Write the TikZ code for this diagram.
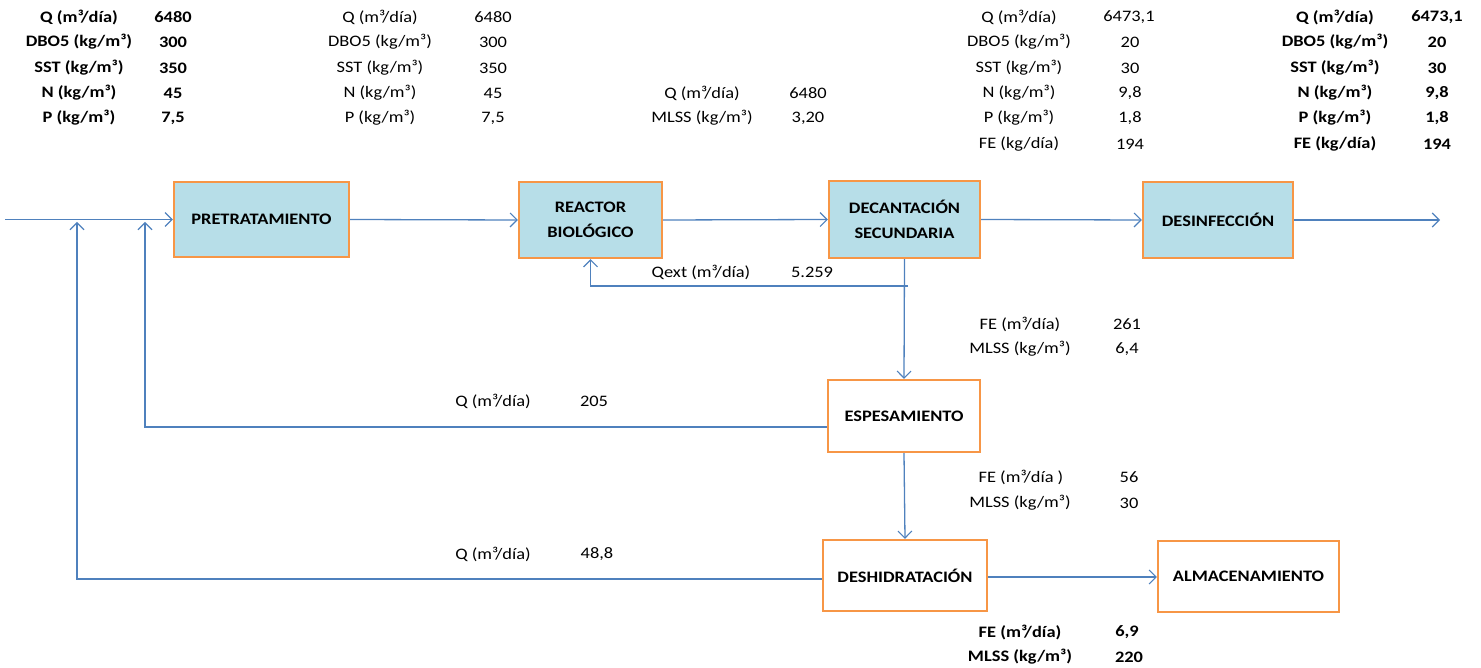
\documentclass[tikz,border=0pt]{standalone}
\usepackage{fontspec}
\setmainfont{Carlito}[FakeStretch=1.15]
\usetikzlibrary{arrows.meta}
\definecolor{boxfill}{HTML}{B7DEE8}
\definecolor{boxline}{HTML}{F79646}
\definecolor{flow}{HTML}{4F81BD}
\tikzset{
  lab/.style={inner sep=0pt, anchor=center, font=\fontsize{16}{19}\selectfont},
  blab/.style={lab, font=\fontsize{16}{19}\selectfont\bfseries},
  unit/.style={draw=boxline, line width=2.4pt, inner sep=0pt, align=center,
    font=\fontsize{16}{25}\selectfont\bfseries},
  tank/.style={unit, fill=boxfill},
  plain/.style={unit, fill=white},
  flowline/.style={draw=flow, line width=1.3pt, -{Straight Barb[length=7pt,width=14pt,line width=1.1pt]}},
  flowbare/.style={draw=flow, line width=1.3pt}
}
\begin{document}
\begin{tikzpicture}[x=1pt,y=-1pt]
\useasboundingbox (0,0) rectangle (1481,668);

% process units
\node[tank, minimum width=175pt, minimum height=75pt] (pre) at (261.5,219.5) {PRETRATAMIENTO};
\node[tank, minimum width=143pt, minimum height=76pt] (reac) at (590.5,220) {REACTOR\\BIOLÓGICO};
\node[tank, minimum width=151pt, minimum height=77pt] (dec) at (904.5,219.5) {DECANTACIÓN\\SECUNDARIA};
\node[tank, minimum width=150pt, minimum height=76pt] (des) at (1218,220) {DESINFECCIÓN};
\node[plain, minimum width=152pt, minimum height=72pt] (esp) at (904,416) {ESPESAMIENTO};
\node[plain, minimum width=164pt, minimum height=71pt] (desh) at (905,575.5) {DESHIDRATACIÓN};
\node[plain, minimum width=181pt, minimum height=71pt] (alm) at (1248.5,576.5) {ALMACENAMIENTO};

% free ends
\coordinate (in) at (5,219.5);
\coordinate (out) at (1440,220);
\coordinate (qj) at (908,286);
\coordinate (r1top) at (145,222);
\coordinate (r2top) at (77,222);

% connectors
\draw[flowline] (in) -- (pre.west);
\draw[flowline] (pre.east) -- (reac.west);
\draw[flowline] (reac.east) -- (dec.west);
\draw[flowline] (dec.east) -- (des.west);
\draw[flowline] (des.east) -- (out);
\draw[flowline] (qj) -| (reac.south);
\draw[flowline] (dec.south) -- (esp.north);
\draw[flowline] (esp.south) -- (desh.north);
\draw[flowline] ([yshift=-11pt]esp.west) -| (r1top);
\draw[flowline] ([yshift=-3.5pt]desh.west) -| (r2top);
\draw[flowline] ([yshift=-1.5pt]desh.east) -- ([yshift=-0.5pt]alm.west);

% table 1 (bold) - influent
\node[blab] (a1) at (79,17) {Q (m³/día)};
\node[blab] (a2) at (79,42) {DBO5 (kg/m³)};
\node[blab] (a3) at (79,68) {SST (kg/m³)};
\node[blab] (a4) at (79,93) {N (kg/m³)};
\node[blab] (a5) at (79,118) {P (kg/m³)};
\node[blab] (av1) at (173,17) {6480};
\node[blab] (av2) at (173,42) {300};
\node[blab] (av3) at (173,68) {350};
\node[blab] (av4) at (173,93) {45};
\node[blab] (av5) at (173,118) {7,5};

% table 2
\node[lab] (b1) at (380,17) {Q (m³/día)};
\node[lab] (b2) at (380,42) {DBO5 (kg/m³)};
\node[lab] (b3) at (380,68) {SST (kg/m³)};
\node[lab] (b4) at (380,93) {N (kg/m³)};
\node[lab] (b5) at (380,118) {P (kg/m³)};
\node[lab] (bv1) at (493,17) {6480};
\node[lab] (bv2) at (493,42) {300};
\node[lab] (bv3) at (493,68) {350};
\node[lab] (bv4) at (493,93) {45};
\node[lab] (bv5) at (493,118) {7,5};

% table 3
\node[lab] (c1) at (702,93) {Q (m³/día)};
\node[lab] (c2) at (702,118) {MLSS (kg/m³)};
\node[lab] (cv1) at (808,93) {6480};
\node[lab] (cv2) at (808,118) {3,20};

% table 4
\node[lab] (d1) at (1019,17) {Q (m³/día)};
\node[lab] (d2) at (1019,42) {DBO5 (kg/m³)};
\node[lab] (d3) at (1019,68) {SST (kg/m³)};
\node[lab] (d4) at (1019,93) {N (kg/m³)};
\node[lab] (d5) at (1019,118) {P (kg/m³)};
\node[lab] (d6) at (1019,144) {FE (kg/día)};
\node[lab] (dv1) at (1129,17) {6473,1};
\node[lab] (dv2) at (1130,42) {20};
\node[lab] (dv3) at (1130,68) {30};
\node[lab] (dv4) at (1130,93) {9,8};
\node[lab] (dv5) at (1130,118) {1,8};
\node[lab] (dv6) at (1130,144) {194};

% table 5 (bold)
\node[blab] (e1) at (1335,17) {Q (m³/día)};
\node[blab] (e2) at (1335,42) {DBO5 (kg/m³)};
\node[blab] (e3) at (1335,68) {SST (kg/m³)};
\node[blab] (e4) at (1335,93) {N (kg/m³)};
\node[blab] (e5) at (1335,118) {P (kg/m³)};
\node[blab] (e6) at (1335,144) {FE (kg/día)};
\node[blab] (ev1) at (1437,17) {6473,1};
\node[blab] (ev2) at (1437,42) {20};
\node[blab] (ev3) at (1437,68) {30};
\node[blab] (ev4) at (1437,93) {9,8};
\node[blab] (ev5) at (1437,118) {1,8};
\node[blab] (ev6) at (1437,144) {194};

% Qext
\node[lab] (q1) at (701,272) {Qext (m³/día)};
\node[lab] (qv1) at (812,272) {5.259};

% purge to thickener
\node[lab] (f1) at (1020,324) {FE (m³/día)};
\node[lab] (f2) at (1020,349) {MLSS (kg/m³)};
\node[lab] (fv1) at (1127,324) {261};
\node[lab] (fv2) at (1127,349) {6,4};

% thickener to dewatering
\node[lab] (g1) at (1021,477) {FE (m³/día )};
\node[lab] (g2) at (1020,503) {MLSS (kg/m³)};
\node[lab] (gv1) at (1129,477) {56};
\node[lab] (gv2) at (1129,503) {30};

% returns
\node[lab] (h1) at (493,401) {Q (m³/día)};
\node[lab] (hv1) at (594,401) {205};
\node[lab] (i1) at (493,554) {Q (m³/día)};
\node[lab] (iv1) at (597,554) {48,8};

% sludge (bold)
\node[blab] (j1) at (1020,632) {FE (m³/día)};
\node[blab] (j2) at (1020,657) {MLSS (kg/m³)};
\node[blab] (jv1) at (1127,632) {6,9};
\node[blab] (jv2) at (1129,657) {220};
\end{tikzpicture}
\end{document}
